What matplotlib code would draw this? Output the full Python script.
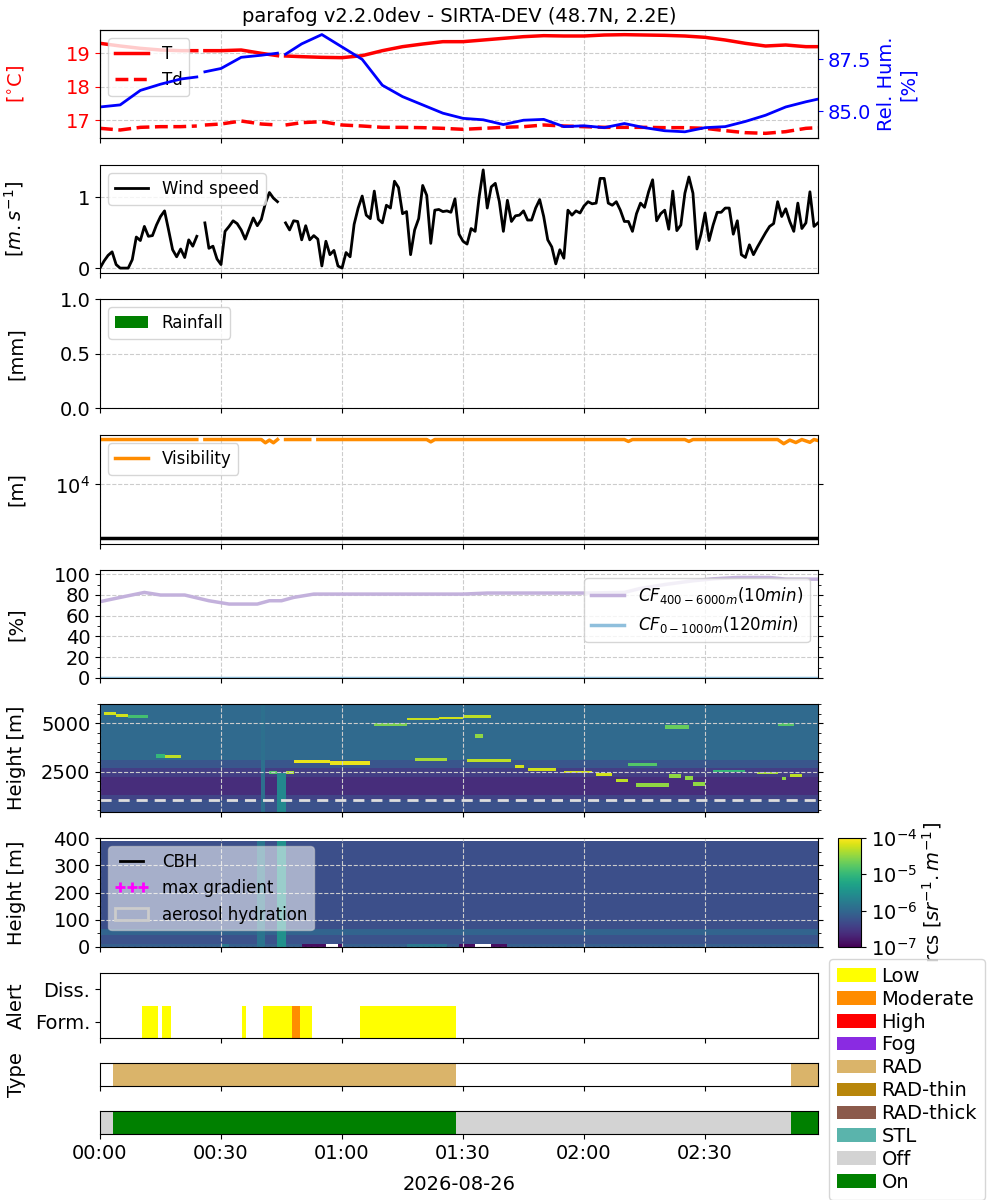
import numpy as np
import matplotlib
matplotlib.use("Agg")
import matplotlib.pyplot as plt
import matplotlib.dates as mdates
import matplotlib.ticker as mticker
from matplotlib.colors import LogNorm
from matplotlib.patches import Patch
from matplotlib.lines import Line2D

plt.rcParams['font.family'] = ['DejaVu Sans']

# ---------------- DATA ----------------
DAY = "2026-08-26"
TITLE = "parafog v2.2.0dev - SIRTA-DEV (48.7N, 2.2E)"
t_end_min = 178

# thermo (minutes after 00:00)
thermo_min = [0, 5, 10, 15, 20, 24, 25, 26, 30, 35, 40, 44, 45, 46, 50, 55, 60, 65, 70, 75, 80,
              85, 90, 95, 100, 105, 110, 115, 120, 125, 130, 135, 140, 145, 150, 155, 160, 165,
              170, 175, 178]
temp_T = [19.3, 19.22, 19.15, 19.1, 19.08, 19.08, np.nan, 19.08, 19.08, 19.1, 19.0, 18.93, np.nan,
          18.92, 18.9, 18.88, 18.87, 18.93, 19.08, 19.2, 19.28, 19.35, 19.35, 19.4, 19.45, 19.5,
          19.53, 19.52, 19.52, 19.55, 19.56, 19.55, 19.54, 19.52, 19.48, 19.4, 19.3, 19.22, 19.25,
          19.2, 19.2]
temp_Td = [16.75, 16.7, 16.78, 16.8, 16.8, 16.82, np.nan, 16.85, 16.88, 16.97, 16.88, 16.85, np.nan,
           16.85, 16.92, 16.95, 16.85, 16.82, 16.78, 16.78, 16.77, 16.75, 16.72, 16.75, 16.78, 16.8,
           16.85, 16.82, 16.8, 16.78, 16.78, 16.78, 16.77, 16.77, 16.75, 16.68, 16.62, 16.6, 16.65,
           16.75, 16.77]
rel_hum = [85.2, 85.3, 86.0, 86.3, 86.55, 86.65, np.nan, 86.9, 87.06, 87.6, 87.7, 87.8, np.nan,
           87.75, 88.25, 88.7, 88.1, 87.5, 86.25, 85.7, 85.3, 84.9, 84.65, 84.58, 84.35, 84.56,
           84.6, 84.25, 84.29, 84.2, 84.4, 84.2, 84.05, 84.0, 84.2, 84.25, 84.5, 84.8, 85.2,
           85.45, 85.58]

# wind speed, 1-minute values from 00:00
wind_speed = [0.0, 0.1, 0.18, 0.23, 0.05, 0.0, 0.0, 0.0, 0.12, 0.44, 0.39, 0.59, 0.45, 0.46, 0.61,
              0.73, 0.81, 0.54, 0.26, 0.16, 0.27, 0.15, 0.40, 0.31, 0.45,
              np.nan,
              0.64, 0.28, 0.31, 0.13, 0.05, 0.52, 0.59, 0.67, 0.63, 0.54, 0.41, 0.56, 0.71, 0.60,
              0.69, 0.92, 1.07, 0.99, 0.94,
              np.nan,
              0.64, 0.54, 0.67, 0.66, 0.40, 0.60, 0.40, 0.46, 0.41, 0.03, 0.38, 0.19, 0.25, 0.03,
              0.0, 0.22, 0.16, 0.62, 0.85, 1.02, 0.75, 0.70, 1.09, 0.69, 0.64, 0.89, 0.85, 1.23,
              1.14, 0.77, 0.80, 0.19, 0.54, 0.70, 1.17, 1.03, 0.35, 0.82, 0.83, 0.80, 0.81, 0.79,
              0.98, 0.48, 0.38,
              0.34, 0.56, 0.52, 1.01, 1.39, 0.85, 1.15, 1.20, 0.94, 0.52, 0.96, 0.66, 0.74, 0.75,
              0.81, 0.68, 0.68, 0.85, 0.97, 0.73, 0.40, 0.30, 0.06, 0.26, 0.14, 0.82, 0.75, 0.81,
              0.78, 0.88, 0.94, 0.91, 0.92, 1.27, 1.27, 0.92, 0.89, 0.94, 0.82, 0.66, 0.66, 0.52,
              0.77, 0.92, 0.86, 1.08, 1.25, 0.67, 0.77, 0.82, 0.55, 1.09, 0.53, 0.61, 1.06, 1.29,
              1.06, 0.27, 0.48, 0.78, 0.39, 0.61, 0.79, 0.79, 0.85, 0.85, 0.48, 0.67, 0.19, 0.15,
              0.33, 0.19, 0.30, 0.40, 0.50, 0.59, 0.63, 0.94, 0.73, 0.84, 0.66, 0.52, 0.92, 0.56,
              0.64, 1.08, 0.59, 0.64]

# rainfall
rain_min = [0, 178]
rain_mm = [0.0, 0.0]

# visibility
vis_min = [0, 24, 25, 26, 40, 41, 42, 43, 44, 45, 46, 52, 53, 54, 81, 82, 83, 130, 131, 132, 145,
           146, 147, 168, 169.5, 171, 172.5, 174, 176, 177, 178]
vis_m = [17830, 17830, np.nan, 17830, 17830, 17100, 17700, 17100, 17830, np.nan, 17830, 17830,
         np.nan, 17830, 17830, 17300, 17830, 17830, 17400, 17830, 17830, 17400, 17830, 17830,
         16900, 17700, 17150, 17830, 17200, 17830, 17600]
vis_threshold = 5000

# cloud fraction
cf_min = [0, 5, 11, 15, 21, 27, 32, 39, 42, 45, 48, 53, 60, 90, 96, 120, 130, 134, 140, 147,
          152, 158, 166, 170, 178]
cf_400_6000 = [73.5, 77.6, 82.4, 79.9, 79.9, 74.4, 71.2, 71.2, 74.4, 74.4, 77.6, 80.8, 80.8, 80.8,
               81.8, 81.8, 82.4, 86.3, 90.0, 93.6, 95.5, 96.8, 96.8, 95.2, 95.2]
cf0_min = [0, 178]
cf_0_1000 = [0.0, 0.0]

# lidar rcs: background bands (h_bottom, h_top, log10 rcs)
upper_bg = [(400, 1000, -6.25), (1000, 1300, -6.4), (1300, 2200, -6.62), (2200, 2700, -6.45),
            (2700, 3100, -6.2), (3100, 6000, -5.97)]
lower_bg = [(0, 10, -6.1), (10, 45, -6.25), (45, 65, -6.05), (65, 390, -6.28)]
# features (minute start, minute end, h bottom, h top, log10 rcs)
upper_features = [(40, 41, 400, 6000, -5.9), (44, 46, 400, 2400, -5.6)]
lower_features = [(39, 41, 0, 390, -5.85), (44, 46, 0, 390, -5.5),
                  (30, 32, 0, 10, -5.8), (50, 56, 0, 10, -6.9), (56, 59, 0, 10, np.nan),
                  (59, 60, 0, 10, -6.9), (76, 86, 0, 10, -5.8), (89, 93, 0, 10, -6.9),
                  (93, 97, 0, 10, np.nan), (97, 101, 0, 10, -6.9)]
# cloud/aerosol layers (minute start, minute end, centre height, log10 rcs)
layers = [(1, 4, 5520, -4.2), (4, 7, 5420, -4.2), (7, 12, 5350, -4.9), (14, 16, 3300, -5.0),
          (16, 20, 3270, -4.3), (42, 44, 2450, -4.8), (46, 48, 2450, -4.4), (48, 57, 3030, -4.1),
          (57, 67, 2950, -4.1), (68, 76, 4930, -4.6), (76, 84, 5230, -4.25), (84, 90, 5290, -4.2),
          (90, 97, 5380, -4.3), (78, 86, 3130, -4.4), (91, 102, 3060, -4.3), (93, 95, 4350, -4.5),
          (103, 105, 2790, -4.2), (106, 113, 2630, -4.2), (115, 122, 2480, -4.2),
          (123, 127, 2310, -4.2), (128, 131, 2030, -4.3), (131, 138, 2880, -4.8),
          (133, 141, 1800, -4.5), (141, 144, 2250, -4.5), (145, 147, 2150, -4.5),
          (147, 150, 1850, -4.5), (140, 146, 4800, -4.7), (152, 160, 2530, -5.0),
          (163, 168, 2420, -4.4), (169, 170, 2110, -4.5), (171, 174, 2280, -4.3),
          (168, 172, 4920, -4.8)]
layer_depth = 150
cf_layer_top = 1000

# alerts
alert_start = [10.3, 15.4, 35.2, 40.5, 47.5, 49.7, 64.4]
alert_end = [14.3, 17.5, 36.3, 47.5, 49.7, 52.5, 88.3]
alert_level = ['Low', 'Low', 'Low', 'Low', 'Moderate', 'Low', 'Low']
alert_ticks = ['Form.', 'Diss.']

type_start = [3.3, 171.4]
type_end = [88.3, 178]
type_name = ['RAD', 'RAD']

status_start = [0, 3.3, 88.3, 171.4]
status_end = [3.3, 88.3, 171.4, 178]
status_name = ['Off', 'On', 'Off', 'On']

legend_names = ['Low', 'Moderate', 'High', 'Fog', 'RAD', 'RAD-thin', 'RAD-thick', 'STL', 'Off', 'On']
legend_colors = ['#ffff00', '#ff8c00', '#ff0000', '#8a2be2', '#dab46a', '#b8860b', '#8b5a4b',
                 '#5ab4ac', '#d3d3d3', '#008000']

# ---------------- PLOT ----------------
base = mdates.date2num(np.datetime64(DAY + 'T00:00'))


def X(m):
    return base + np.asarray(m, float) / 1440.0


FS = 14
fig = plt.figure(figsize=(10, 12), dpi=100)
L, W = 0.1, 0.718


def add(top_px, bot_px):
    return fig.add_axes([L, 1 - bot_px / 1200, W, (bot_px - top_px) / 1200])


ax1 = add(30, 138)
ax2 = add(165, 273)
ax3 = add(299, 408)
ax4 = add(435, 544)
ax5 = add(570, 678)
ax6 = add(704, 812)
ax7 = add(838, 947)
ax8 = add(973, 1038)
ax9 = add(1063, 1086)
ax10 = add(1111, 1134)
axes = [ax1, ax2, ax3, ax4, ax5, ax6, ax7, ax8, ax9, ax10]

grid_kw = dict(color='#cccccc', linestyle='--', linewidth=0.8)
leg_kw = dict(fontsize=12, loc='upper left', framealpha=0.8)

# Panel 1: temperature / RH
ax1.plot(X(thermo_min), temp_T, color='red', lw=2.5, label='T')
ax1.plot(X(thermo_min), temp_Td, color='red', lw=2.5, ls='--', label='Td')
ax1.set_ylim(16.46, 19.70)
ax1.set_yticks([17, 18, 19])
ax1.tick_params(axis='y', colors='red', labelsize=FS)
ax1.set_ylabel('[$^{\\circ}$C]', color='red', fontsize=FS)
ax1.legend(**leg_kw)
ax1.set_title(TITLE, fontsize=14)
ax1r = ax1.twinx()
ax1r.plot(X(thermo_min), rel_hum, color='blue', lw=2)
ax1r.set_ylim(83.70, 88.92)
ax1r.set_yticks([85.0, 87.5])
ax1r.tick_params(axis='y', colors='blue', labelsize=FS)
ax1r.set_ylabel('Rel. Hum.\n[%]', color='blue', fontsize=FS)

# Panel 2: wind
ax2.plot(X(np.arange(len(wind_speed))), wind_speed, color='black', lw=2, label='Wind speed')
ax2.set_ylabel('[$m.s^{-1}$]', fontsize=FS)
ax2.legend(**leg_kw)
ax2.set_yticks([0, 1])

# Panel 3: rain
ax3.bar(X(rain_min), rain_mm, width=1 / 1440, color='green', label='Rainfall')
ax3.set_ylim(0, 1)
ax3.set_yticks([0, 0.5, 1.0])
ax3.set_ylabel('[mm]', fontsize=FS)
ax3.legend(**leg_kw)

# Panel 4: visibility
ax4.plot(X(vis_min), vis_m, color='darkorange', lw=2.5, label='Visibility')
ax4.axhline(vis_threshold, color='black', lw=2.5)
ax4.set_yscale('log')
ax4.set_ylim(4650, 18900)
ax4.yaxis.set_major_locator(mticker.FixedLocator([1e4]))
ax4.yaxis.set_minor_locator(mticker.NullLocator())
ax4.set_ylabel('[m]', fontsize=FS)
ax4.legend(**leg_kw)
ax4.tick_params(axis='y', right=True)

# Panel 5: cloud fraction
ax5.plot(X(cf_min), cf_400_6000, color='#c3b1dc', lw=2.5, label='$CF_{400-6000m}(10min)$')
ax5.plot(X(cf0_min), cf_0_1000, color='#8fbfdc', lw=2.5, label='$CF_{0-1000m}(120min)$')
ax5.set_ylim(0, 104)
ax5.set_yticks(range(0, 101, 20))
ax5.yaxis.set_minor_locator(mticker.MultipleLocator(10))
ax5.set_ylabel('[%]', fontsize=FS)
ax5.legend(fontsize=12, loc='upper right', framealpha=0.8)
ax5.tick_params(axis='y', which='both', right=True)

# Panels 6-7: lidar
norm = LogNorm(1e-7, 1e-4)
t_edges = np.arange(0, t_end_min + 1)
t_mid = t_edges[:-1] + 0.5

up_edges = np.arange(400, 6001, 50)
up_mid = (up_edges[:-1] + up_edges[1:]) / 2
up = np.zeros((len(up_mid), len(t_mid)))
for hb, ht, v in upper_bg:
    up[(up_mid >= hb) & (up_mid < ht), :] = v
for m0, m1, hb, ht, v in upper_features:
    up[np.ix_((up_mid >= hb) & (up_mid < ht), (t_mid >= m0) & (t_mid < m1))] = v
for m0, m1, hc, v in layers:
    up[np.ix_(np.abs(up_mid - hc) <= layer_depth / 2, (t_mid >= m0) & (t_mid < m1))] = v

lo_edges = np.arange(0, 391, 5)
lo_mid = (lo_edges[:-1] + lo_edges[1:]) / 2
lo = np.zeros((len(lo_mid), len(t_mid)))
for hb, ht, v in lower_bg:
    lo[(lo_mid >= hb) & (lo_mid < ht), :] = v
for m0, m1, hb, ht, v in lower_features:
    lo[np.ix_((lo_mid >= hb) & (lo_mid < ht), (t_mid >= m0) & (t_mid < m1))] = v

ax6.pcolormesh(X(t_edges), up_edges, 10 ** up, cmap='viridis', norm=norm, shading='flat')
ax6.axhline(cf_layer_top, color='#dddddd', ls='--', lw=2, dashes=(4, 2.5))
ax6.set_ylim(400, 6000)
ax6.set_yticks([2500, 5000])
ax6.yaxis.set_minor_locator(mticker.MultipleLocator(500))
ax6.set_ylabel('Height [m]', fontsize=FS)
ax6.tick_params(axis='y', which='both', right=True)

mesh = ax7.pcolormesh(X(t_edges), lo_edges, np.ma.masked_invalid(10 ** lo), cmap='viridis',
                      norm=norm, shading='flat')
ax7.set_ylim(0, 400)
ax7.set_yticks(range(0, 401, 100))
ax7.yaxis.set_minor_locator(mticker.MultipleLocator(50))
ax7.set_ylabel('Height [m]', fontsize=FS)
ax7.tick_params(axis='y', which='both', right=True)
h_cbh = Line2D([], [], color='black', lw=2, label='CBH')
h_grad = Line2D([], [], color='magenta', marker='+', ls='none', ms=7, mew=2, label='max gradient')
h_aer = Patch(facecolor='none', edgecolor='#cccccc', lw=2, label='aerosol hydration')
ax7.legend(handles=[h_cbh, h_grad, h_aer], fontsize=12, loc='upper left', numpoints=3,
           framealpha=0.55)

cax = fig.add_axes([0.838, 1 - 947 / 1200, 0.023, 109 / 1200])
cb = fig.colorbar(mesh, cax=cax)
cb.set_ticks([1e-7, 1e-6, 1e-5, 1e-4])
cb.ax.yaxis.set_major_formatter(mticker.LogFormatterSciNotation())
cb.ax.yaxis.set_minor_locator(mticker.NullLocator())
cb.set_label('rcs [$sr^{-1}.m^{-1}$]', fontsize=FS, labelpad=2)
cb.ax.tick_params(labelsize=FS)

# Panel 8: alerts
cmap_cat = dict(zip(legend_names, legend_colors))
for s, e, lv in zip(alert_start, alert_end, alert_level):
    ax8.bar(X(s), 1, width=(e - s) / 1440, bottom=-0.5, align='edge', color=cmap_cat[lv], lw=0)
ax8.set_ylim(-0.5, 1.5)
ax8.set_yticks([0, 1])
ax8.set_yticklabels(alert_ticks)
ax8.set_ylabel('Alert', fontsize=FS)

# Panel 9: type
for s, e, nm in zip(type_start, type_end, type_name):
    ax9.bar(X(s), 1, width=(e - s) / 1440, bottom=0, align='edge', color=cmap_cat[nm], lw=0)
ax9.set_ylim(0, 1)
ax9.set_yticks([])
ax9.set_ylabel('Type', fontsize=FS)

# Panel 10: status
for s, e, nm in zip(status_start, status_end, status_name):
    ax10.bar(X(s), 1, width=(e - s) / 1440, bottom=0, align='edge', color=cmap_cat[nm], lw=0)
ax10.set_ylim(0, 1)
ax10.set_yticks([])

# shared x
for ax in axes:
    ax.set_xlim(X(0), X(t_end_min))
    ax.xaxis.set_major_locator(mdates.MinuteLocator(byminute=[0, 30]))
    ax.xaxis.set_major_formatter(mdates.DateFormatter('%H:%M'))
    ax.tick_params(labelsize=FS)
    if ax is not ax10:
        ax.tick_params(axis='x', labelbottom=False)
    if ax in (ax1, ax2, ax3, ax4, ax5, ax6, ax7):
        ax.grid(True, **grid_kw)
    ax.yaxis.set_label_coords(-0.103, 0.5)
ax10.set_xlabel(DAY, fontsize=FS, labelpad=9)
ax1.tick_params(axis='y', colors='red')

handles = [Patch(facecolor=c, edgecolor='none', label=n) for n, c in zip(legend_names, legend_colors)]
fig.legend(handles=handles, loc='upper left', bbox_to_anchor=(0.829, 1 - 959 / 1200),
           fontsize=14, labelspacing=0.2, handlelength=2.0, borderpad=0.4,
           handletextpad=0.3, borderaxespad=0)

fig.savefig('out.png', dpi=100)
